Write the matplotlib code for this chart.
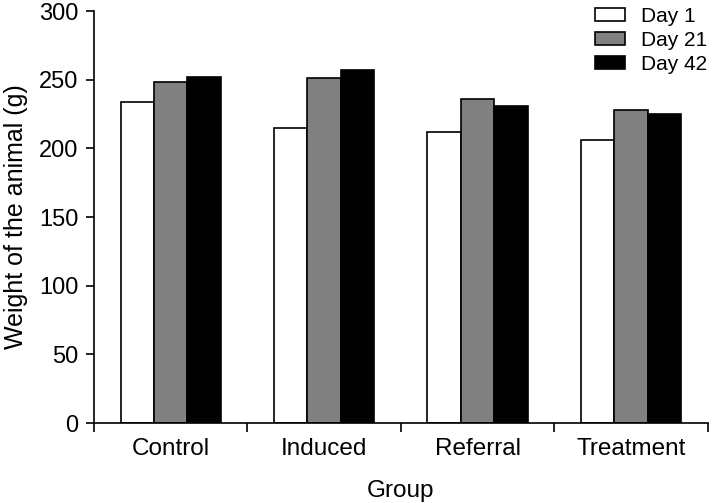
import numpy as np
import matplotlib
matplotlib.use("Agg")
import matplotlib.pyplot as plt

plt.rcParams['font.family'] = ['Liberation Sans', 'DejaVu Sans']

# Data
groups = ["Control", "Induced", "Referral", "Treatment"]
series_labels = ["Day 1", "Day 21", "Day 42"]
day1 = [234, 215, 212, 206]
day21 = [248, 251, 236, 228]
day42 = [252, 257, 231, 225]
colors = ["white", "#808080", "black"]

fig = plt.figure(figsize=(7.12, 5.03), dpi=100)
ax = fig.add_axes([0.132, 0.159, 0.862, 0.819])

x = np.arange(len(groups))
width = 0.218
for i, (vals, lab, col) in enumerate(zip([day1, day21, day42], series_labels, colors)):
    ax.bar(x + (i - 1) * width, vals, width, color=col, edgecolor="black",
           linewidth=1.2, label=lab)

ax.set_xlim(-0.5, len(groups) - 0.5)
ax.set_ylim(0, 300)
ax.set_yticks(np.arange(0, 301, 50))
ax.set_xticks(x)
ax.set_xticklabels(groups)
ax.set_xticks(np.arange(-0.5, len(groups), 1.0), minor=True)
ax.tick_params(axis="x", which="major", length=0, labelsize=17.5, pad=11)
ax.tick_params(axis="x", which="minor", length=6.5, width=1.2)
ax.tick_params(axis="y", length=6, width=1.2, labelsize=17, pad=5)

for s in ["top", "right"]:
    ax.spines[s].set_visible(False)
for s in ["left", "bottom"]:
    ax.spines[s].set_linewidth(1.2)

ax.set_xlabel("Group", fontsize=17.5, labelpad=14)
ax.set_ylabel("Weight of the animal (g)", fontsize=18, labelpad=8)

ax.legend(loc="upper right", bbox_to_anchor=(1.022, 1.045), frameon=False,
          fontsize=15, handlelength=1.45, handleheight=0.55, labelspacing=0.24,
          handletextpad=0.75, borderpad=0.2)

fig.savefig("out.png", dpi=100)
